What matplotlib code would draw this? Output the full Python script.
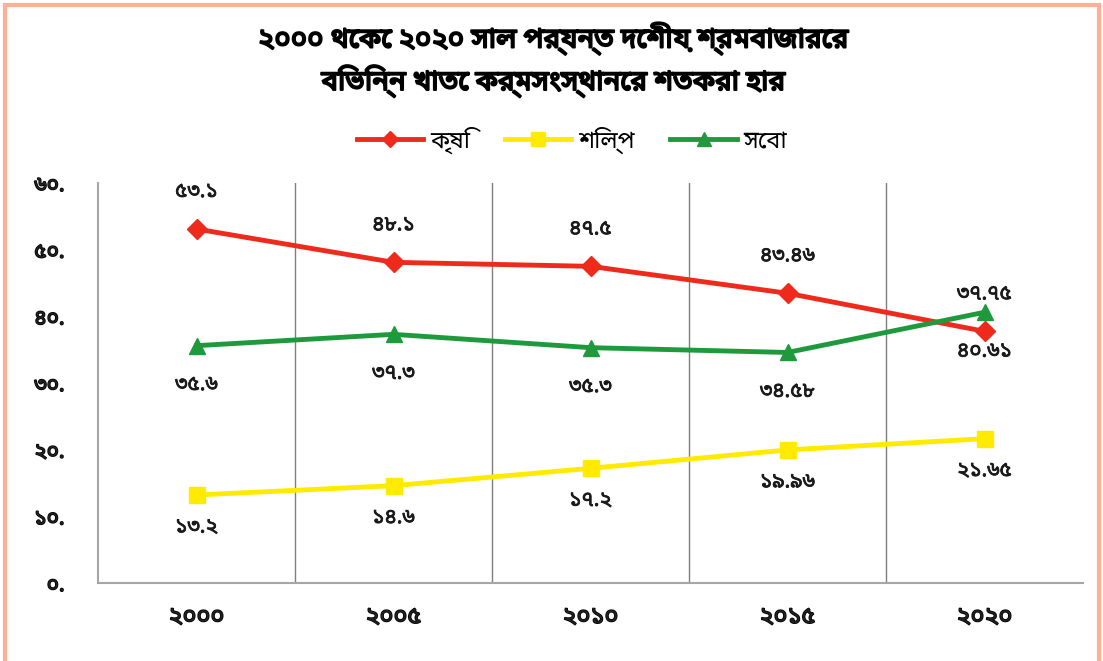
import matplotlib
matplotlib.use("Agg")
import matplotlib.pyplot as plt
import matplotlib.patheffects as pe
from matplotlib.patches import Rectangle
from matplotlib import font_manager

# ---- data ----
years = ["২০০০", "২০০৫", "২০১০", "২০১৫", "২০২০"]
agri = [53.1, 48.1, 47.5, 43.46, 37.75]
industry = [13.2, 14.6, 17.2, 19.96, 21.65]
service = [35.6, 37.3, 35.3, 34.58, 40.61]
agri_labels = ["৫৩.১", "৪৮.১", "৪৭.৫", "৪৩.৪৬", "৩৭.৭৫"]
industry_labels = ["১৩.২", "১৪.৬", "১৭.২", "১৯.৯৬", "২১.৬৫"]
service_labels = ["৩৫.৬", "৩৭.৩", "৩৫.৩", "৩৪.৫৮", "৪০.৬১"]
series_names = ["কৃষি", "শিল্প", "সেবা"]
yticks = [0, 10, 20, 30, 40, 50, 60]
ytick_labels = ["০.", "১০.", "২০.", "৩০.", "৪০.", "৫০.", "৬০."]
title = "২০০০ থেকে ২০২০ সাল পর্যন্ত দেশীয় শ্রমবাজারের\nবিভিন্ন খাতে কর্মসংস্থানের শতকরা হার"

# ---- font ----
names = {f.name for f in font_manager.fontManager.ttflist}
beng = None
for cand in ["Noto Sans Bengali", "Noto Sans Bengali UI", "Hind Siliguri", "Anek Bangla"]:
    if cand in names:
        beng = cand
        break
fams = [beng, "DejaVu Sans"] if beng else ["DejaVu Sans"]
plt.rcParams["font.family"] = fams

RED = "#EE2A1C"
YEL = "#FFEA00"
GRN = "#1E9A3C"

bold_fx = [pe.withStroke(linewidth=1.1, foreground="black")]
semi_fx = [pe.withStroke(linewidth=0.6, foreground="#1a1a1a")]

fig = plt.figure(figsize=(11.03, 6.61), dpi=100)
fig.patch.set_facecolor("white")

# outer border
fig.add_artist(Rectangle((4.5 / 1103, -0.05), (1098.5 - 4.5) / 1103, 1 - 4.5 / 661 + 0.05,
                         transform=fig.transFigure, fill=False,
                         edgecolor="#FBB193", linewidth=3.0))

ax = fig.add_axes([98 / 1103, 1 - 583 / 661, (1083 - 98) / 1103, (583 - 183) / 661])
x = list(range(len(years)))

ax.plot(x, agri, color=RED, lw=3.5, marker="D", ms=10, label=series_names[0], zorder=4)
ax.plot(x, industry, color=YEL, lw=3.5, marker="s", ms=12, label=series_names[1], zorder=4)
ax.plot(x, service, color=GRN, lw=3.5, marker="^", ms=12, label=series_names[2], zorder=4)

lab_kw = dict(textcoords="offset points", ha="center", va="center",
              fontsize=15, color="#1a1a1a", path_effects=semi_fx)
for xi, v, t in zip(x, agri, agri_labels):
    ax.annotate(t, (xi, v), xytext=(0, 27), **lab_kw)
for xi, v, t in zip(x, service, service_labels):
    ax.annotate(t, (xi, v), xytext=(0, -28), **lab_kw)
for xi, v, t in zip(x, industry, industry_labels):
    ax.annotate(t, (xi, v), xytext=(0, -23), **lab_kw)

ax.set_xlim(-0.5, len(years) - 0.5)
ax.set_ylim(0, 60)
ax.set_yticks(yticks)
ax.set_yticklabels(ytick_labels, fontsize=15, color="#222222")
ax.set_xticks(x)
ax.set_xticklabels(years, fontsize=17, color="#222222")
for t in ax.get_xticklabels() + ax.get_yticklabels():
    t.set_path_effects(bold_fx)
ax.tick_params(axis="both", length=0)
ax.tick_params(axis="y", pad=24)
ax.tick_params(axis="x", pad=16)

for b in [0.5, 1.5, 2.5, 3.5]:
    ax.axvline(b, color="#7F7F7F", lw=1.0, zorder=1)

for s in ["top", "right"]:
    ax.spines[s].set_visible(False)
ax.spines["left"].set_color("#A6A6A6")
ax.spines["left"].set_linewidth(1.5)
ax.spines["bottom"].set_color("#A6A6A6")
ax.spines["bottom"].set_linewidth(1.5)

fig.text(553 / 1103, 1 - 60 / 661, title, ha="center", va="center",
         fontsize=20, linespacing=1.4, color="black",
         path_effects=[pe.withStroke(linewidth=1.4, foreground="black")])

leg = fig.legend(loc="center", bbox_to_anchor=(572 / 1103, 1 - 140 / 661), ncol=3,
                 frameon=False, fontsize=17, handlelength=2.8, columnspacing=1.5,
                 handletextpad=0.3, markerscale=0.8)

fig.savefig("out.png", dpi=100)
